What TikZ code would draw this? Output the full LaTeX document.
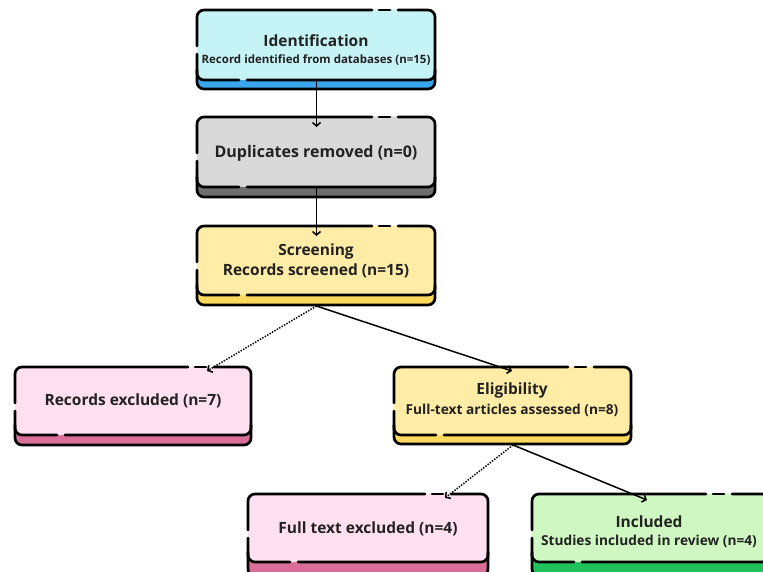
\documentclass[tikz,border=0pt]{standalone}
\usepackage{fontspec}
\setmainfont{Open Sans}[BoldFont={* Bold}]
\usetikzlibrary{arrows.meta}
\definecolor{cyanF}{HTML}{C6F4F6}
\definecolor{cyanS}{HTML}{3AA6F0}
\definecolor{grayF}{HTML}{D9D9D9}
\definecolor{grayS}{HTML}{6E6E6E}
\definecolor{yelF}{HTML}{FFECA6}
\definecolor{yelS}{HTML}{FFD95C}
\definecolor{pinkF}{HTML}{FFE0F0}
\definecolor{pinkS}{HTML}{DB6E98}
\definecolor{grnF}{HTML}{CFF7C2}
\definecolor{grnS}{HTML}{22C25A}
\definecolor{txt}{HTML}{222222}
\newcommand\pbox[7]{%
  \fill[#7, rounded corners=7pt] (#1,#2) rectangle (#3,#5);
  \fill[#6, rounded corners=7pt] (#1,#2) rectangle (#3,#4);
  \draw[bline, rounded corners=7pt] (#1,#4-10) -- (#1,#5) -- (#3,#5) -- (#3,#4-10);
  \draw[bline, rounded corners=7pt] (#1,#2+44) -- (#1,#4) -- (#1+42,#4);
  \draw[bline, rounded corners=7pt] (#1+50,#4) -- (#3,#4) -- (#3,#2) -- (#3-37,#2);
  \draw[bline] (#3-45,#2) -- (#3-56,#2);
  \draw[bline, rounded corners=7pt] (#3-63,#2) -- (#1,#2) -- (#1,#2+36);
}
\begin{document}
\begin{tikzpicture}[x=1pt,y=-1pt,
  bline/.style={line width=2.7pt, black, line cap=round},
  ttl/.style={font=\bfseries\fontsize{15.5}{18}\selectfont, text=txt, inner sep=0pt},
  sub/.style={font=\bfseries\fontsize{13.7}{16}\selectfont, text=txt, inner sep=0pt},
  con/.style={line width=1.5pt, black, -{Straight Barb[length=3.5pt,width=8pt]}},
  dcon/.style={con, dash pattern=on 1.4pt off 1.4pt}]
\useasboundingbox (0,0) rectangle (763,572);
\begin{scope}
\clip (0,0) rectangle (763,572);
\pbox{197}{10}{435}{80}{89}{cyanF}{cyanS}
\pbox{197}{117}{435}{187}{197}{grayF}{grayS}
\pbox{197}{226}{435}{295}{305}{yelF}{yelS}
\pbox{15}{367}{251}{435}{445}{pinkF}{pinkS}
\pbox{394}{367}{631}{435}{444}{yelF}{yelS}
\pbox{248}{494}{488}{562}{576}{pinkF}{pinkS}
\pbox{532}{494}{769}{562}{576}{grnF}{grnS}

\node[ttl] (idT) at (316,41) {Identification};
\node[sub, font=\bfseries\fontsize{11.5}{13}\selectfont] (idS) at (316,60) {Record identified from databases (n=15)};
\node[ttl, font=\bfseries\fontsize{16}{18}\selectfont] (dupT) at (316,153) {Duplicates removed (n=0)};
\node[ttl] (scrT) at (316,251) {Screening};
\node[ttl] (scrS) at (316,271) {Records screened (n=15)};
\node[ttl] (rexT) at (133,401) {Records excluded (n=7)};
\node[ttl] (eliT) at (512,390) {Eligibility};
\node[sub] (eliS) at (512,410) {Full-text articles assessed (n=8)};
\node[ttl] (fteT) at (368,529) {Full text excluded (n=4)};
\node[ttl] (incT) at (649,522) {Included};
\node[sub] (incS) at (649,541) {Studies included in review (n=4)};

\coordinate (idB) at (316.5,80);
\coordinate (dupIn) at (316.5,127);
\coordinate (dupB) at (316.5,187);
\coordinate (scrIn) at (316.5,236);
\coordinate (scrB) at (316.5,306);
\coordinate (eliIn) at (512,371);
\coordinate (rexIn) at (207,371);
\coordinate (eliB) at (513,445);
\coordinate (incIn) at (647,500);
\coordinate (fteIn) at (445,498);

\draw[con] (idB) -- (dupIn);
\draw[con] (dupB) -- (scrIn);
\draw[con] (scrB) -- (eliIn);
\draw[dcon] (scrB) -- (rexIn);
\draw[con] (eliB) -- (incIn);
\draw[dcon] (eliB) -- (fteIn);
\end{scope}
\end{tikzpicture}
\end{document}
